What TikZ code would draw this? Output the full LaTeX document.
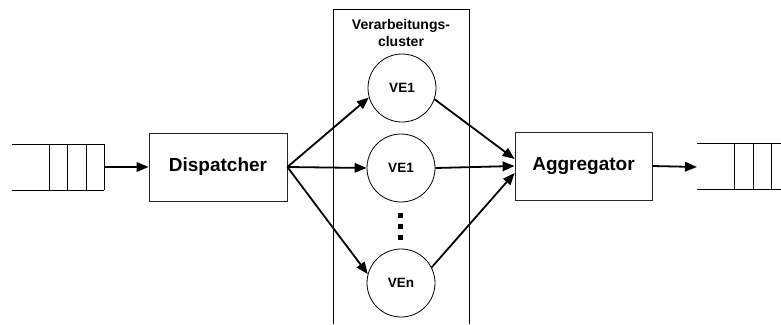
\documentclass[tikz,border=0pt]{standalone}
\usepackage{fontspec}
\setmainfont{Liberation Sans}
\usetikzlibrary{arrows.meta,calc}

\begin{document}
\begin{tikzpicture}[x=1pt,y=-1pt,
  box/.style={draw=black!85,line width=0.8pt,minimum width=138pt,minimum height=68pt,
    inner sep=0pt,font=\fontsize{19}{22}\selectfont\bfseries},
  unit/.style={draw=black,line width=0.8pt,circle,minimum size=68pt,inner sep=0pt,
    font=\fontsize{13.5}{15}\selectfont\bfseries},
  flow/.style={line width=1.8pt,-{Triangle[length=12pt,width=9.5pt]}},
  queue/.style={line width=0.9pt},
  frame/.style={line width=0.8pt}]
\useasboundingbox (0,0) rectangle (781,324);

% processing cluster frame (open at the bottom)
\draw[frame] (333,324) -- (333,9) -- (469,9) -- (469,324);
\node[font=\fontsize{14}{17}\selectfont\bfseries,align=center] (title) at (401,33)
  {Verarbeitungs-\\cluster};

% input queue
\draw[queue] (12,144) -- (104,144) (12,190) -- (104,190);
\foreach \x in {49,67,86,104} \draw[queue] (\x,144) -- (\x,190);
\coordinate (qin) at (104,167);

% output queue
\draw[queue] (697,143) -- (781,143) (697,189) -- (781,189);
\foreach \x in {734,753,771} \draw[queue] (\x,143) -- (\x,189);
\coordinate (qout) at (697,167);

% stages
\node[box] (disp) at (218,167) {Dispatcher};
\node[box,minimum width=137pt] (agg) at (583.5,166) {Aggregator};

\node[unit] (ve1) at (402,88) {VE1};
\node[unit] (ve2) at (401,168) {VE1};
\node[unit] (ven) at (401,283) {VEn};

% ellipsis between the units
\foreach \y in {213,224,235} \fill (398,\y) rectangle (403,\y+5);

% connectors
\draw[flow] (qin) -- (disp.west);
\draw[flow] (disp.east) -- (ve1.196);
\draw[flow] (disp.east) -- (ve2.west);
\draw[flow] (disp.east) -- (ven.165);
\draw[flow] (ve1.-19) -- ($(agg.west)+(0,-7)$);
\draw[flow] (ve2.east) -- (agg.west);
\draw[flow] (ven.27) -- ($(agg.west)+(0,7)$);
\draw[flow] (agg.east) -- (qout);
\end{tikzpicture}
\end{document}
